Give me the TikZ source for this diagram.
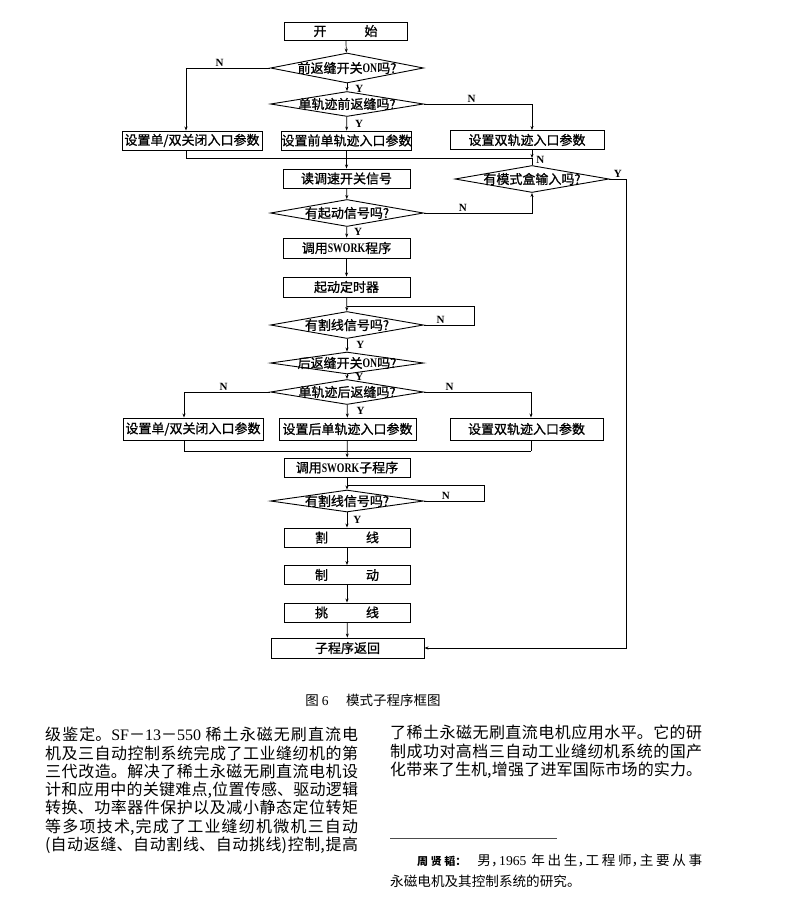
\documentclass[tikz,border=0pt]{standalone}
\usepackage{fontspec}
\usepackage{graphicx}
\setmainfont{Liberation Serif}
\newfontfamily\cjk{Noto Sans CJK SC}
\newfontfamily\cjkb{Noto Sans CJK SC}[FakeBold=1]
\usetikzlibrary{shapes.geometric,arrows.meta}
\XeTeXlinebreaklocale "zh"
\XeTeXlinebreakskip=0pt plus 2pt
\newcommand\dtext[1]{\makebox[0pt]{#1}}
\newcommand\lat[1]{{\rmfamily #1}}
\newcommand\nlat[1]{{\rmfamily\bfseries\scalebox{0.75}[1]{#1}}}
\newcommand\cm{\makebox[0.6em][l]{，}}

\begin{document}
\begin{tikzpicture}[x=1pt,y=-1pt,
	box/.style={draw,line width=0.9pt,minimum width=125pt,minimum height=19pt,inner sep=0pt,font=\cjkb\fontsize{13}{13}\selectfont},
	dec/.style={draw,diamond,line width=0.9pt,minimum width=153pt,minimum height=27pt,inner sep=0pt,font=\cjkb\fontsize{13}{13}\selectfont},
	yn/.style={font=\rmfamily\bfseries\fontsize{11}{11}\selectfont,inner sep=1pt},
	line/.style={line width=0.7pt},
	arr/.style={line width=0.7pt,-{Stealth[length=4pt,width=3pt]}}]
	\useasboundingbox (0,0) rectangle (790,916);
	\node[box,minimum width=123pt,minimum height=18pt] (b0) at (345.5,31) {开\hspace{38pt}始};
	\node[dec,minimum height=30pt] (d1) at (347,68) {\dtext{前返缝开关\nlat{ON}吗?}};
	\node[dec,minimum height=25pt] (d2) at (347,104) {\dtext{单轨迹前返缝吗?}};
	\node[box,minimum width=140pt] (b1) at (192,140.5) {设置单/双关闭入口参数};
	\node[box,minimum width=127pt] (b2) at (346.5,140.5) {设置前单轨迹入口参数};
	\node[box,minimum width=154pt] (b3) at (527,140) {设置双轨迹入口参数};
	\node[box,minimum width=127pt] (b4) at (346.5,178.5) {读调速开关信号};
	\node[dec,minimum width=154pt] (d3) at (532,179) {\dtext{有模式盒输入吗?}};
	\node[dec] (d4) at (347,213) {\dtext{有起动信号吗?}};
	\node[box,minimum width=127pt,minimum height=20pt] (b5) at (346.5,248) {调用\nlat{SWORK}程序};
	\node[box,minimum width=127pt,minimum height=20pt] (b6) at (346.5,287) {起动定时器};
	\node[dec] (d5) at (347,325) {\dtext{有割线信号吗?}};
	\node[dec,minimum height=22pt] (d6) at (347,363) {\dtext{后返缝开关\nlat{ON}吗?}};
	\node[dec,minimum height=25pt] (d7) at (347,392) {\dtext{单轨迹后返缝吗?}};
	\node[box,minimum width=140pt,minimum height=22pt] (b7) at (193,429) {设置单/双关闭入口参数};
	\node[box,minimum width=137pt,minimum height=22pt] (b8) at (347.5,429) {设置后单轨迹入口参数};
	\node[box,minimum width=153pt,minimum height=22pt] (b9) at (526.5,429) {设置双轨迹入口参数};
	\node[box,minimum width=126pt] (b10) at (347,467.5) {调用\nlat{SWORK}子程序};
	\node[dec,minimum height=22pt] (d8) at (347,501) {\dtext{有割线信号吗?}};
	\node[box,minimum width=126pt] (b11) at (347,537.5) {割\hspace{38pt}线};
	\node[box,minimum width=126pt] (b12) at (347,575) {制\hspace{38pt}动};
	\node[box,minimum width=126pt] (b13) at (347,612.5) {挑\hspace{38pt}线};
	\node[box,minimum width=153pt,minimum height=20pt] (b14) at (347.5,648) {子程序返回};
	\coordinate (m1) at (532,158);
	\coordinate (j1) at (347,306);
	\coordinate (m2) at (531,451);
	\coordinate (j2) at (347,485);
	\draw[arr] (b0) -- (d1);
	\draw[arr] (d1) -- node[yn,right=7pt,pos=0.7]{Y} (d2);
	\draw[arr] (d1.west) -| node[yn,above,pos=0.3]{N} ([xshift=-6pt]b1.north);
	\draw[arr] (d2.east) -| node[yn,above,pos=0.22]{N} ([xshift=5pt]b3.north);
	\draw[arr] (d2) -- node[yn,right=7pt]{Y} (b2);
	\draw[line] ([xshift=-6pt]b1.south) |- (m1);
	\draw[arr] ([xshift=5pt]b3.south) -- (m1);
	\draw[arr] (b2) -- (b4);
	\draw[line] (d3.north) -- node[yn,right=3pt,pos=0.8]{N} (m1);
	\draw[arr] (b4) -- (d4);
	\draw[arr] (d4.east) -| node[yn,above,pos=0.18]{N} (d3.south);
	\draw[arr] (d3.east) -- node[yn,above]{Y} ++(17,0) |- (b14.east);
	\draw[arr] (d4) -- node[yn,right=6pt]{Y} (b5);
	\draw[arr] (b5) -- (b6);
	\draw[arr] (b6) -- (d5);
	\draw[line] (d5.east) -- node[yn,above,pos=0.33]{N} ++(50.5,0) |- (j1);
	\draw[arr] (d5) -- node[yn,right=8pt]{Y} (d6);
	\draw[arr] (d6) -- node[yn,right=7pt]{Y} (d7);
	\draw[arr] (d7.west) -| node[yn,above,pos=0.27]{N} ([xshift=-9pt]b7.north);
	\draw[arr] (d7.east) -| node[yn,above,pos=0.12]{N} ([xshift=4.5pt]b9.north);
	\draw[arr] (d7) -- node[yn,right=8pt]{Y} (b8);
	\draw[line] ([xshift=-9pt]b7.south) |- (m2);
	\draw[line] ([xshift=4.5pt]b9.south) -- (m2);
	\draw[arr] (b8) -- (b10);
	\draw[arr] (b10) -- (d8);
	\draw[line] (d8.east) -- node[yn,above,pos=0.36]{N} ++(60.5,0) |- (j2);
	\draw[arr] (d8) -- node[yn,right=5pt]{Y} (b11);
	\draw[arr] (b11) -- (b12);
	\draw[arr] (b12) -- (b13);
	\draw[arr] (b13) -- (b14);
	\node[font=\cjk\fontsize{13.5}{13.5}\selectfont] (cap) at (373,700) {图~\lat{6}\hspace{1.3em}模式子程序框图};
	\node[anchor=north west,text width=313pt,align=justify,inner sep=0pt,font=\cjk\fontsize{16}{18.3}\selectfont] (c1) at (45,727) {\noindent\parfillskip=0pt
		级鉴定。\lat{SF}－\lat{13}－\lat{550} 稀土永磁无刷直流电\linebreak
		机及三自动控制系统完成了工业缝纫机的第\linebreak
		三代改造。解决了稀土永磁无刷直流电机设\linebreak
		计和应用中的关键难点,位置传感、驱动逻辑\linebreak
		转换、功率器件保护以及减小静态定位转矩\linebreak
		等多项技术,完成了工业缝纫机微机三自动\linebreak
		(自动返缝、自动割线、自动挑线)控制,提高\par};
	\node[anchor=north west,text width=312pt,align=justify,inner sep=0pt,font=\cjk\fontsize{16}{18.3}\selectfont] (c2) at (390,725) {\noindent\parfillskip=0pt
		了稀土永磁无刷直流电机应用水平。它的研\linebreak
		制成功对高档三自动工业缝纫机系统的国产\linebreak
		化带来了生机,增强了进军国际市场的实力。\par};
	\draw[line width=0.6pt,black!70] (390,838) -- (557,838);
	\node[anchor=north west,text width=312pt,align=justify,inner sep=0pt,font=\cjk\fontsize{13.6}{21}\selectfont] (fn) at (390,854) {\noindent\hspace*{27pt}{\bfseries\fontsize{11}{21}\selectfont 周贤韬：}\hspace{11pt}男\cm\lat{1965} 年出生\cm 工程师\cm 主要从事\linebreak
		永磁电机及其控制系统的研究。\par};
\end{tikzpicture}
\end{document}
